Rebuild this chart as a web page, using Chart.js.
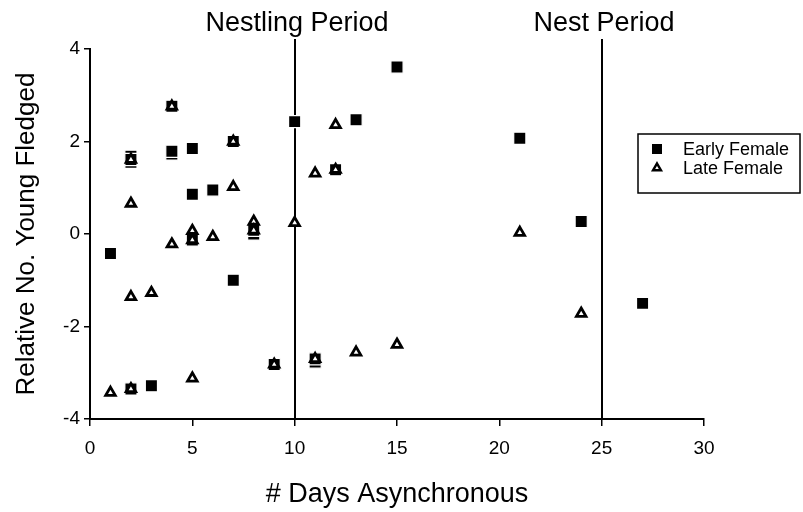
<!DOCTYPE html>
<html>
<head>
<meta charset="utf-8">
<script src="https://cdn.jsdelivr.net/npm/chart.js@4.4.1/dist/chart.umd.min.js"></script>
<style>
    html, body { margin: 0; padding: 0; background: #fff; }
    #wrap { width: 803px; height: 512px; }
</style>
</head>
<body>
<div id="wrap"><canvas id="asyncChart" width="803" height="512"></canvas></div>
<script>
// Early Female nests
const earlyDays    = [1, 2, 2, 2, 2, 3, 4, 4, 4, 5, 5, 5, 6, 7, 7, 8, 8, 9, 10, 11, 11, 12, 13, 15, 21, 24, 27];
const earlyFledged = [-0.42, 1.68, 1.55, 1.61, -3.35, -3.28, 2.76, 1.73, 1.79, 1.85, 0.86, -0.13, 0.95, 2.0, -1.0, 0.0, 0.08, -2.82, 2.43, -2.77, -2.70, 1.39, 2.47, 3.61, 2.07, 0.27, -1.5];

// Late Female nests
const lateDays    = [1, 2, 2, 2, 2, 3, 4, 4, 5, 5, 5, 6, 7, 7, 8, 8, 9, 10, 11, 11, 12, 12, 13, 15, 21, 24];
const lateFledged = [-3.43, 1.61, 0.66, -1.36, -3.35, -1.27, 2.76, -0.22, 0.07, -0.13, -3.12, -0.06, 2.0, 1.02, 0.27, 0.08, -2.82, 0.24, 1.31, -2.70, 2.36, 1.39, -2.56, -2.39, 0.03, -1.72];

const seriesNames = ['Early Female', 'Late Female'];
const xTicks = [0, 5, 10, 15, 20, 25, 30];
const yTicks = [-4, -2, 0, 2, 4];
const periodDays = [10, 25];
const periodNames = ['Nestling Period', 'Nest Period'];

const FONT = "'Liberation Sans', Arial, Helvetica, sans-serif";

function toPoints(xs, ys) {
    return xs.map((x, i) => ({ x: x, y: ys[i] }));
}

// Period dividers + headings
const periodPlugin = {
    id: 'periods',
    beforeDatasetsDraw(chart) {
        const { ctx, chartArea, scales } = chart;
        ctx.save();
        ctx.strokeStyle = '#000';
        ctx.lineWidth = 2;
        ctx.fillStyle = '#000';
        ctx.font = '27px ' + FONT;
        ctx.textAlign = 'center';
        ctx.textBaseline = 'middle';
        periodDays.forEach((d, i) => {
            const px = Math.round(scales.x.getPixelForValue(d));
            ctx.beginPath();
            ctx.moveTo(px, chartArea.top - 10);
            ctx.lineTo(px, chartArea.bottom);
            ctx.stroke();
            ctx.fillText(periodNames[i], px + 2, chartArea.top - 25);
        });
        ctx.restore();
    }
};

// Boxed legend at the right
const boxLegendPlugin = {
    id: 'boxLegend',
    afterDraw(chart) {
        const { ctx } = chart;
        const left = 638, top = 134, w = 162, h = 59;
        ctx.save();
        ctx.fillStyle = '#fff';
        ctx.fillRect(left, top, w, h);
        ctx.strokeStyle = '#000';
        ctx.lineWidth = 1.5;
        ctx.strokeRect(left, top, w, h);
        chart.data.datasets.forEach((ds, i) => {
            const y = top + 15 + i * 19;
            const cx = left + 19;
            ctx.beginPath();
            if (ds.pointStyle === 'rect') {
                ctx.fillStyle = '#000';
                ctx.fillRect(cx - 5, y - 5, 10, 10);
            } else {
                const r = 4.5;
                ctx.moveTo(cx, y - r);
                ctx.lineTo(cx + r * 0.866, y + r / 2);
                ctx.lineTo(cx - r * 0.866, y + r / 2);
                ctx.closePath();
                ctx.fillStyle = '#fff';
                ctx.fill();
                ctx.strokeStyle = '#000';
                ctx.lineWidth = 2.5;
                ctx.stroke();
            }
            ctx.fillStyle = '#000';
            ctx.font = '18px ' + FONT;
            ctx.textAlign = 'left';
            ctx.textBaseline = 'middle';
            ctx.fillText(ds.label, left + 45, y + 1);
        });
        ctx.restore();
    }
};

const asyncCtx = document.getElementById('asyncChart');
const asyncChart = new Chart(asyncCtx, {
    type: 'scatter',
    data: {
        datasets: [{
            label: seriesNames[0],
            data: toPoints(earlyDays, earlyFledged),
            pointStyle: 'rect',
            pointRadius: 8.6,
            pointHoverRadius: 8.6,
            pointBackgroundColor: '#000',
            pointBorderColor: '#fff',
            pointBorderWidth: 1.2,
            order: 1
        }, {
            label: seriesNames[1],
            data: toPoints(lateDays, lateFledged),
            pointStyle: 'triangle',
            pointRadius: 5.5,
            pointHoverRadius: 5.5,
            pointBackgroundColor: '#fff',
            pointBorderColor: '#000',
            pointBorderWidth: 2.8,
            order: 0
        }]
    },
    options: {
        responsive: false,
        animation: false,
        events: [],
        layout: {
            padding: { top: 49, right: 99, left: 0, bottom: 0 }
        },
        plugins: {
            legend: { display: false },
            tooltip: { enabled: false }
        },
        scales: {
            x: {
                type: 'linear',
                min: 0,
                max: 30,
                afterBuildTicks: s => { s.ticks = xTicks.map(v => ({ value: v })); },
                afterFit: s => { s.height = 93; },
                grid: {
                    drawOnChartArea: false,
                    drawTicks: true,
                    tickLength: 7,
                    color: '#000',
                    lineWidth: 1.5
                },
                border: { color: '#000', width: 2 },
                ticks: {
                    color: '#000',
                    font: { family: FONT, size: 19 },
                    padding: 11,
                    maxRotation: 0
                },
                title: {
                    display: true,
                    text: '# Days Asynchronous',
                    color: '#000',
                    font: { family: FONT, size: 27, lineHeight: 1 },
                    padding: { top: 0, bottom: 4 }
                }
            },
            y: {
                type: 'linear',
                min: -4,
                max: 4,
                afterBuildTicks: s => { s.ticks = yTicks.map(v => ({ value: v })); },
                afterFit: s => { s.width = 90; },
                grid: {
                    drawOnChartArea: false,
                    drawTicks: true,
                    tickLength: 6,
                    color: '#000',
                    lineWidth: 1.5
                },
                border: { color: '#000', width: 2 },
                ticks: {
                    color: '#000',
                    font: { family: FONT, size: 19 },
                    padding: 4
                },
                title: {
                    display: true,
                    text: 'Relative No. Young Fledged',
                    color: '#000',
                    font: { family: FONT, size: 26, lineHeight: 1 },
                    padding: { top: 14, bottom: 0 }
                }
            }
        }
    },
    plugins: [periodPlugin, boxLegendPlugin]
});
</script>
</body>
</html>
